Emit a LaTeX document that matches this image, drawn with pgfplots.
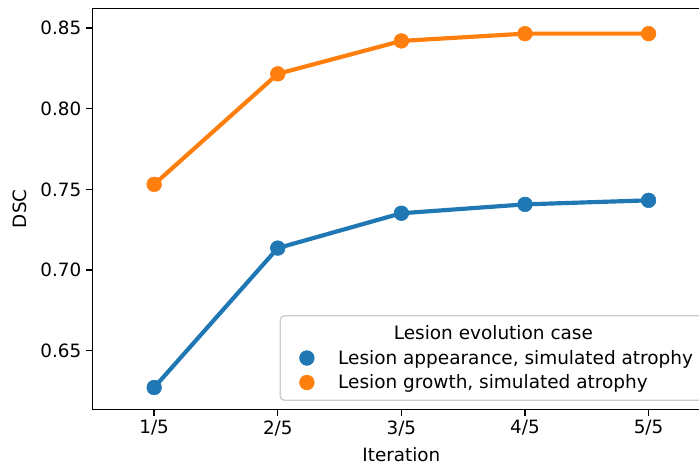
\documentclass[border=0pt]{standalone}
\usepackage{fontspec}
\setmainfont{DejaVu Sans}
\usepackage{calc}
\usepackage{pgfplots}
\pgfplotsset{compat=1.18}
\definecolor{c0}{HTML}{1F77B4}
\definecolor{c1}{HTML}{FF7F0E}
\begin{document}
\begin{tikzpicture}
\begin{axis}[
  scale only axis,
  width=445pt, height=288.7pt,
  xmin=-0.5, xmax=4.5,
  ymin=0.6137, ymax=0.8622,
  xtick={0,1,2,3,4},
  xticklabels={1/5,2/5,3/5,4/5,5/5},
  ytick={0.65,0.70,0.75,0.80,0.85},
  yticklabel style={/pgf/number format/.cd, fixed, precision=2, zerofill},
  /pgf/number format/assume math mode=true,
  tick align=outside,
  xtick pos=bottom, ytick pos=left,
  major tick length=4.5pt,
  every tick/.style={black, line width=1pt},
  axis line style={line width=1pt},
  xlabel={Iteration}, ylabel={DSC},
  ylabel style={yshift=3pt},
  xlabel style={yshift=-2pt},
  tick label style={font=\fontsize{13.2}{15}\selectfont},
  label style={font=\fontsize{13.2}{15}\selectfont},
  legend cell align=left,
  legend image code/.code={\path[draw=none,fill=none] (0cm,0cm) rectangle (0.8cm,0cm); \draw[#1] plot coordinates {(0.5cm,0cm)};},
  legend style={at={(1,0)}, xshift=-5pt, yshift=6pt, anchor=south east,
    draw=black!20, line width=1pt, rounded corners=3pt, fill=white,
    font=\fontsize{13.3}{15}\selectfont, row sep=2pt, column sep=12pt,
    inner xsep=5pt, inner ysep=5pt},
]
\addlegendimage{empty legend}
\addlegendentry{\makebox[\widthof{Lesion appearance, simulated atrophy}][c]{Lesion evolution case\hspace*{32pt}}}
\addlegendimage{only marks, mark=*, c0, mark size=5.3pt, mark options={line width=0.4pt}}
\addlegendentry{Lesion appearance, simulated atrophy}
\addlegendimage{only marks, mark=*, c1, mark size=5.3pt, mark options={line width=0.4pt}}
\addlegendentry{Lesion growth, simulated atrophy}
\addplot[forget plot, c0, line width=3pt, mark=*, mark size=5.3pt, mark options={solid, line width=0.4pt}]
  coordinates {(0,0.6272) (1,0.7136) (2,0.7352) (3,0.7407) (4,0.7432)};
\addplot[forget plot, c1, line width=3pt, mark=*, mark size=5.3pt, mark options={solid, line width=0.4pt}]
  coordinates {(0,0.7531) (1,0.8216) (2,0.8420) (3,0.8465) (4,0.8465)};
\end{axis}
\pgfresetboundingbox
\useasboundingbox (current axis.south west) ++(-66.5pt,-40.1pt) rectangle ++(503.3pt,334.8pt);
\end{tikzpicture}
\end{document}
